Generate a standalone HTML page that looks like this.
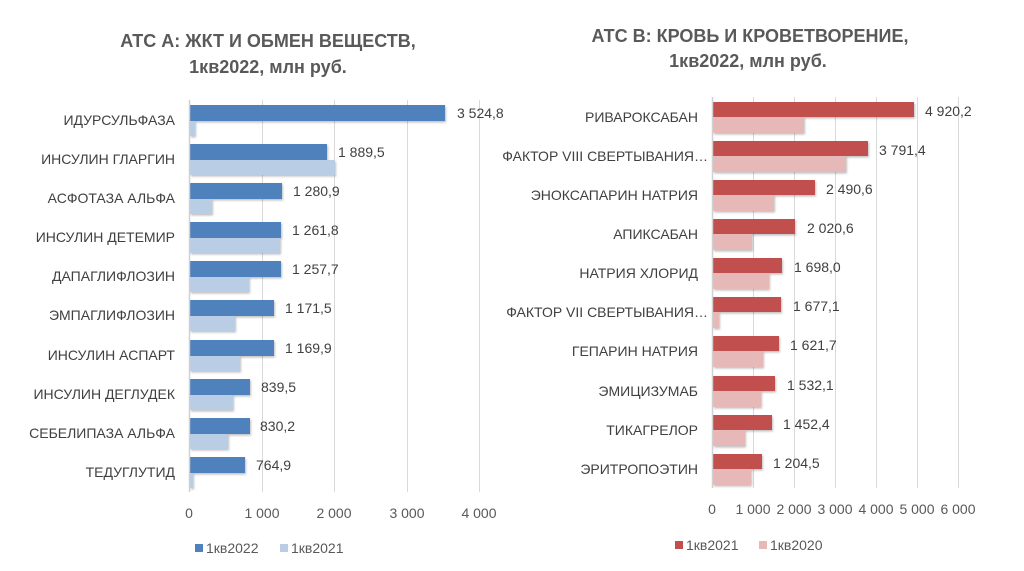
<!DOCTYPE html>
<html><head><meta charset="utf-8"><style>
html,body{margin:0;padding:0;background:#fff;}
svg{display:block;font-family:"Liberation Sans","DejaVu Sans",sans-serif;}
</style></head><body>
<svg width="1024" height="571" viewBox="0 0 1024 571" xmlns="http://www.w3.org/2000/svg">
<defs><filter id="sh" x="-5%" y="-20%" width="115%" height="160%"><feDropShadow dx="1" dy="1.5" stdDeviation="1" flood-color="#000" flood-opacity="0.25"/></filter></defs>
<rect width="1024" height="571" fill="#fff"/>
<g fill="#595959" font-weight="bold" font-size="18" text-anchor="middle">
<text x="268" y="47">АТС А: ЖКТ И ОБМЕН ВЕЩЕСТВ,</text>
<text x="268" y="73">1кв2022, млн руб.</text>
<text x="750" y="42">АТС В: КРОВЬ И КРОВЕТВОРЕНИЕ,</text>
<text x="748" y="67">1кв2022, млн руб.</text>
</g>
<g stroke="#d9d9d9" stroke-width="1">
<line x1="262.5" y1="100" x2="262.5" y2="492"/><line x1="334.5" y1="100" x2="334.5" y2="492"/><line x1="407.5" y1="100" x2="407.5" y2="492"/><line x1="479.5" y1="100" x2="479.5" y2="492"/>
<line x1="753.5" y1="97" x2="753.5" y2="488"/><line x1="794.5" y1="97" x2="794.5" y2="488"/><line x1="835.5" y1="97" x2="835.5" y2="488"/><line x1="876.5" y1="97" x2="876.5" y2="488"/><line x1="917.5" y1="97" x2="917.5" y2="488"/><line x1="958.5" y1="97" x2="958.5" y2="488"/>
</g>
<g filter="url(#sh)">
<rect x="190" y="105" width="255" height="16" fill="#4F81BD"/><rect x="190" y="121" width="5" height="15" fill="#B9CDE5"/>
<rect x="190" y="144" width="137" height="16" fill="#4F81BD"/><rect x="190" y="160" width="145" height="15" fill="#B9CDE5"/>
<rect x="190" y="183" width="92" height="16" fill="#4F81BD"/><rect x="190" y="199" width="22" height="15" fill="#B9CDE5"/>
<rect x="190" y="222" width="91" height="16" fill="#4F81BD"/><rect x="190" y="238" width="90" height="15" fill="#B9CDE5"/>
<rect x="190" y="261" width="91" height="16" fill="#4F81BD"/><rect x="190" y="277" width="59" height="15" fill="#B9CDE5"/>
<rect x="190" y="300" width="84" height="16" fill="#4F81BD"/><rect x="190" y="316" width="45" height="15" fill="#B9CDE5"/>
<rect x="190" y="340" width="84" height="16" fill="#4F81BD"/><rect x="190" y="356" width="50" height="15" fill="#B9CDE5"/>
<rect x="190" y="379" width="60" height="16" fill="#4F81BD"/><rect x="190" y="395" width="43" height="15" fill="#B9CDE5"/>
<rect x="190" y="418" width="60" height="16" fill="#4F81BD"/><rect x="190" y="434" width="38" height="15" fill="#B9CDE5"/>
<rect x="190" y="457" width="55" height="16" fill="#4F81BD"/><rect x="190" y="473" width="3" height="15" fill="#B9CDE5"/>
</g>
<g filter="url(#sh)">
<rect x="713" y="102" width="201" height="15" fill="#C0504D"/><rect x="713" y="117" width="91" height="16" fill="#E6B9B8"/>
<rect x="713" y="141" width="155" height="15" fill="#C0504D"/><rect x="713" y="156" width="133" height="16" fill="#E6B9B8"/>
<rect x="713" y="180" width="102" height="15" fill="#C0504D"/><rect x="713" y="195" width="61" height="16" fill="#E6B9B8"/>
<rect x="713" y="219" width="82" height="15" fill="#C0504D"/><rect x="713" y="234" width="39" height="16" fill="#E6B9B8"/>
<rect x="713" y="258" width="69" height="15" fill="#C0504D"/><rect x="713" y="273" width="56" height="16" fill="#E6B9B8"/>
<rect x="713" y="297" width="68" height="15" fill="#C0504D"/><rect x="713" y="312" width="6" height="16" fill="#E6B9B8"/>
<rect x="713" y="336" width="66" height="15" fill="#C0504D"/><rect x="713" y="351" width="50" height="16" fill="#E6B9B8"/>
<rect x="713" y="376" width="62" height="15" fill="#C0504D"/><rect x="713" y="391" width="48" height="16" fill="#E6B9B8"/>
<rect x="713" y="415" width="59" height="15" fill="#C0504D"/><rect x="713" y="430" width="32" height="16" fill="#E6B9B8"/>
<rect x="713" y="454" width="49" height="15" fill="#C0504D"/><rect x="713" y="469" width="38" height="16" fill="#E6B9B8"/>
</g>
<g stroke="#d0d0d0" stroke-width="1.5"><line x1="189.5" y1="100" x2="189.5" y2="492"/><line x1="712.5" y1="97" x2="712.5" y2="488"/></g>
<g fill="#404040" font-size="14" text-anchor="end">
<text x="175" y="125">ИДУРСУЛЬФАЗА</text><text x="175" y="164">ИНСУЛИН ГЛАРГИН</text><text x="175" y="203">АСФОТАЗА АЛЬФА</text><text x="175" y="242">ИНСУЛИН ДЕТЕМИР</text><text x="175" y="281">ДАПАГЛИФЛОЗИН</text><text x="175" y="320">ЭМПАГЛИФЛОЗИН</text><text x="175" y="360">ИНСУЛИН АСПАРТ</text><text x="175" y="399">ИНСУЛИН ДЕГЛУДЕК</text><text x="175" y="438">СЕБЕЛИПАЗА АЛЬФА</text><text x="175" y="477">ТЕДУГЛУТИД</text>
<text x="698" y="122">РИВАРОКСАБАН</text><text x="708" y="161">ФАКТОР VIII СВЕРТЫВАНИЯ…</text><text x="698" y="200">ЭНОКСАПАРИН НАТРИЯ</text><text x="698" y="239">АПИКСАБАН</text><text x="698" y="278">НАТРИЯ ХЛОРИД</text><text x="708" y="317">ФАКТОР VII СВЕРТЫВАНИЯ…</text><text x="698" y="356">ГЕПАРИН НАТРИЯ</text><text x="698" y="396">ЭМИЦИЗУМАБ</text><text x="698" y="435">ТИКАГРЕЛОР</text><text x="698" y="474">ЭРИТРОПОЭТИН</text>
</g>
<g fill="#404040" font-size="14">
<text x="457" y="118">3 524,8</text><text x="338" y="157">1 889,5</text><text x="293" y="196">1 280,9</text><text x="292" y="235">1 261,8</text><text x="292" y="274">1 257,7</text><text x="285" y="313">1 171,5</text><text x="285" y="353">1 169,9</text><text x="261" y="392">839,5</text><text x="260" y="431">830,2</text><text x="256" y="470">764,9</text>
<text x="925" y="116">4 920,2</text><text x="879" y="155">3 791,4</text><text x="826" y="194">2 490,6</text><text x="807" y="233">2 020,6</text><text x="794" y="272">1 698,0</text><text x="793" y="311">1 677,1</text><text x="790" y="350">1 621,7</text><text x="787" y="390">1 532,1</text><text x="783" y="429">1 452,4</text><text x="773" y="468">1 204,5</text>
</g>
<g fill="#595959" font-size="14" text-anchor="middle">
<text x="189" y="518">0</text><text x="262" y="518">1 000</text><text x="334" y="518">2 000</text><text x="407" y="518">3 000</text><text x="479" y="518">4 000</text>
<text x="712" y="514">0</text><text x="753" y="514">1 000</text><text x="794" y="514">2 000</text><text x="835" y="514">3 000</text><text x="876" y="514">4 000</text><text x="917" y="514">5 000</text><text x="958" y="514">6 000</text>
</g>
<g font-size="14" fill="#595959">
<rect x="195" y="544" width="8" height="8" fill="#4F81BD"/><text x="206" y="553">1кв2022</text>
<rect x="280" y="544" width="8" height="8" fill="#B9CDE5"/><text x="291" y="553">1кв2021</text>
<rect x="675" y="541" width="8" height="8" fill="#C0504D"/><text x="686" y="550">1кв2021</text>
<rect x="759" y="541" width="8" height="8" fill="#E6B9B8"/><text x="770" y="550">1кв2020</text>
</g>
</svg>
</body></html>
